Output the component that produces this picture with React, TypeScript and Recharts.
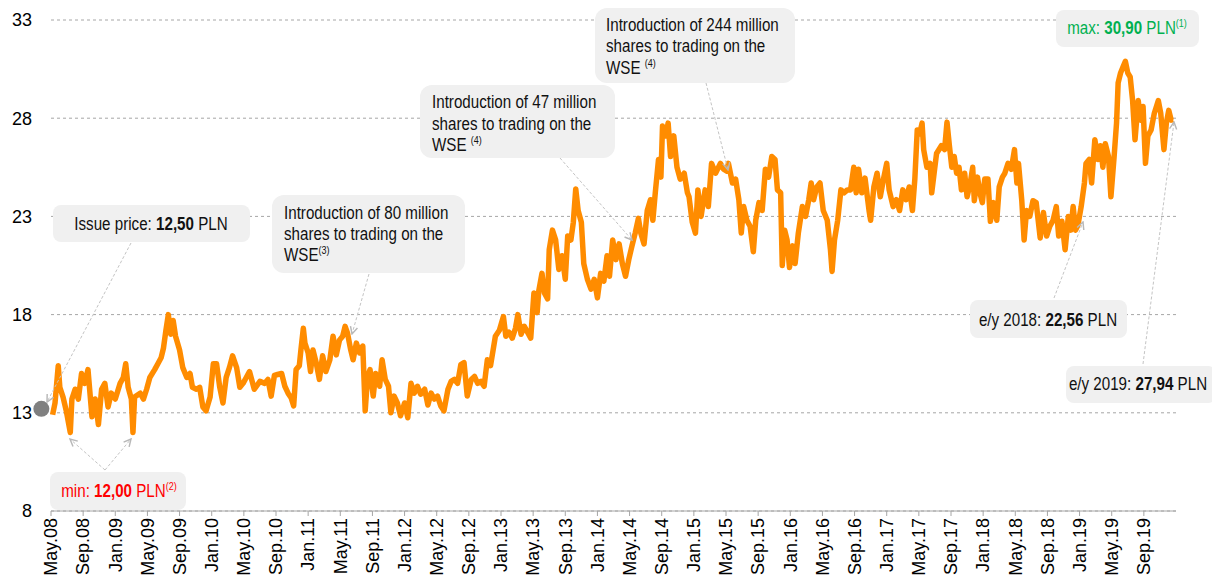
import React from 'react'
import { LineChart, Line, XAxis, YAxis, CartesianGrid, ReferenceDot } from 'recharts'

// months since 1 May 2008
const months = [
  0.2, 0.5, 0.9, 1.1, 1.5, 1.9, 2.4, 2.6, 3.0, 3.4,
  3.8, 4.2, 4.6, 5.1, 5.5, 5.9, 6.3, 6.7, 7.1, 7.5,
  8.0, 8.6, 9.0, 9.3, 9.6, 10.0, 10.2, 10.4, 11.1, 11.5,
  11.9, 12.3, 12.9, 13.3, 13.7, 14.0, 14.3, 14.6, 14.9, 15.2,
  15.5, 16.0, 16.4, 16.9, 17.3, 17.6, 18.1, 18.5, 18.9, 19.3,
  19.8, 20.2, 20.6, 21.0, 21.4, 21.8, 22.2, 22.6, 23.1, 23.5,
  23.9, 24.3, 24.7, 25.3, 26.0, 26.6,
  27.0, 27.4, 27.8, 28.2, 28.7, 29.1, 29.5, 29.9, 30.2, 30.5,
  30.9, 31.1, 31.4, 31.6, 32.0, 32.3, 32.6, 33.0, 33.4, 33.8,
  34.2, 34.7, 35.1, 35.5, 35.9, 36.3, 36.6, 36.9, 37.3, 37.6,
  38.0, 38.4, 38.8, 39.1, 39.4, 39.7, 40.1, 40.4, 40.9, 41.2,
  41.6, 42.0, 42.3, 42.7, 43.1, 43.5, 44.0, 44.4, 44.8, 45.2,
  45.6, 46.0, 46.5, 46.9, 47.3, 47.7, 48.1, 48.5, 48.9, 49.4,
  49.8, 50.2, 50.6, 51.0, 51.4, 51.8, 52.3, 52.7, 53.1, 53.5,
  53.9, 54.3, 54.7,
  55.3, 55.8, 56.3, 56.6, 57.0, 57.4, 57.8, 58.1, 58.5, 58.9,
  59.3, 59.7, 60.1, 60.5, 60.7, 61.1, 61.4, 61.8, 62.0, 62.4,
  62.8, 63.2, 63.6, 64.0, 64.3, 64.7, 65.0, 65.3, 65.6, 66.0,
  66.3, 66.75, 67.2, 67.6, 68.0, 68.4, 68.8, 69.2, 69.5, 69.9,
  70.3, 70.7, 71.1, 71.5, 71.9, 72.3, 72.7, 73.1, 73.4, 73.8,
  74.2, 74.6, 74.9, 75.2, 75.6, 75.9, 76.1, 76.5, 76.8, 77.1,
  77.5, 77.9, 78.3, 78.8, 79.2, 79.4, 79.8, 80.2, 80.5, 80.9,
  81.4, 81.8, 82.2, 82.7,
  83.3, 83.7, 84.1, 84.3, 84.8, 85.2, 85.6, 85.9, 86.2, 86.6,
  87.0, 87.4, 87.7, 88.1, 88.5, 88.9, 89.3, 89.7, 90.1, 90.4,
  90.8, 91.0, 91.3, 91.6, 91.9, 92.3, 92.6, 93.0, 93.5, 93.9,
  94.3, 94.6, 94.9, 95.3, 95.7, 96.1, 96.6, 97.0, 97.2, 97.5,
  97.9, 98.3, 98.7, 99.1, 99.5, 99.9, 100.2, 100.5, 100.9, 101.3,
  101.8, 102.0, 102.4, 102.8, 103.2, 103.6, 104.0, 104.3, 104.8, 105.2,
  105.6, 106.0, 106.4, 106.8, 107.2, 107.5, 107.8, 108.1, 108.4, 108.6,
  109.0, 109.4, 109.6, 109.9, 110.2,
  110.8, 111.2, 111.5, 111.8, 112.1, 112.4, 112.7, 113.0, 113.3, 113.7,
  114.0, 114.4, 114.7, 114.9, 115.3, 115.6, 115.9, 116.2, 116.6, 116.9,
  117.3, 117.7, 118.0, 118.4, 118.7, 119.1, 119.5, 119.9, 120.2, 120.4,
  120.8, 121.1, 121.4, 121.8, 122.2, 122.6, 123.1, 123.5, 123.9, 124.3,
  124.7, 125.1, 125.4, 125.8, 126.2, 126.6, 126.9, 127.2, 127.5, 127.8,
  128.2, 128.6, 128.8, 129.2, 129.5, 129.9, 130.3, 130.6, 130.9, 131.2,
  131.6, 131.9, 132.3, 132.6, 132.8, 133.1, 133.4, 133.7, 134.0, 134.3,
  134.6, 134.9, 135.3, 135.6, 135.9, 136.2, 136.5, 136.9, 137.3, 137.8,
  138.1, 138.5, 138.8, 139.1, 139.4, 139.6,
]

// share price, PLN
const prices = [
  12.9, 13.5, 15.4, 14.3, 13.8, 13.1, 12.0, 13.7, 14.2, 13.7,
  15.0, 14.5, 15.2, 12.8, 13.7, 12.4, 14.2, 14.5, 13.3, 14.0,
  13.7, 14.5, 14.8, 15.5, 14.3, 13.7, 12.0, 13.8, 14.0, 13.7,
  14.2, 14.8, 15.2, 15.5, 15.8, 16.3, 17.2, 18.0, 17.0, 17.7,
  16.9, 16.2, 15.3, 14.8, 15.0, 14.3, 14.2, 14.3, 13.3, 13.1,
  13.8, 15.5, 15.5, 14.3, 13.5, 14.8, 15.3, 15.9, 15.3, 14.3,
  14.5, 14.8, 15.1, 14.2, 14.6, 14.5,
  14.7, 13.85, 14.9, 14.95, 15.0, 14.35, 14.0, 13.75, 13.35, 15.2,
  15.4, 16.2, 17.3, 16.55, 16.05, 15.1, 16.2, 15.55, 14.7, 15.9,
  15.1, 15.7, 16.9, 15.95, 16.7, 16.9, 17.4, 17.05, 16.2, 15.7,
  16.55, 16.05, 16.4, 13.1, 14.85, 15.2, 13.85, 15.0, 14.35, 15.7,
  14.7, 14.35, 13.0, 13.85, 13.5, 12.85, 13.5, 12.75, 14.5, 14.0,
  14.35, 13.95, 14.2, 13.4, 14.0, 13.7, 13.85, 13.35, 13.1, 14.2,
  14.6, 14.7, 14.5, 15.45, 15.55, 13.85, 14.7, 14.85, 14.5, 14.6,
  14.35, 15.7, 15.4,
  16.9, 17.2, 17.9, 16.9, 17.1, 16.8, 17.3, 18.0, 17.0, 17.4,
  17.1, 16.8, 19.1, 18.1, 19.2, 20.1, 19.1, 18.8, 21.3, 22.3,
  21.8, 20.3, 21.0, 19.8, 22.0, 21.8, 22.7, 24.4, 23.3, 22.7,
  20.6, 19.8, 19.3, 19.8, 18.85, 20.1, 19.7, 21.0, 19.95, 21.8,
  20.8, 21.6, 20.6, 19.95, 20.8, 21.5, 22.15, 22.9, 22.15, 21.6,
  23.3, 23.85, 22.8, 24.2, 25.9, 25.0, 27.6, 27.1, 27.75, 26.05,
  27.1, 25.5, 24.9, 25.2, 24.2, 24.0, 22.7, 22.15, 24.35, 23.0,
  24.35, 23.5, 25.7, 25.2,
  25.7, 25.4, 25.3, 25.7, 24.7, 24.9, 23.85, 22.15, 23.5, 22.8,
  22.5, 21.2, 22.8, 23.7, 23.3, 25.4, 25.0, 26.05, 25.9, 24.35,
  24.2, 20.5, 22.3, 21.8, 20.4, 21.5, 20.6, 22.15, 23.5, 23.0,
  23.85, 24.7, 23.85, 24.5, 24.7, 23.3, 22.8, 21.3, 20.2, 21.8,
  22.8, 24.35, 24.2, 24.35, 24.35, 25.5, 24.2, 25.4, 24.2, 24.95,
  23.3, 22.8, 24.5, 25.2, 24.0, 24.9, 25.7, 24.35, 23.5, 23.85,
  23.3, 24.35, 23.85, 24.5, 23.3, 24.9, 27.4, 27.2, 27.75, 26.4,
  25.5, 25.7, 24.2, 25.2, 26.2,
  26.6, 26.4, 27.8, 26.6, 25.5, 26.05, 25.2, 25.5, 24.35, 25.2,
  24.0, 24.7, 25.5, 23.8, 25.0, 24.2, 23.7, 24.9, 24.9, 22.75,
  23.7, 22.8, 24.5, 25.0, 25.2, 25.7, 25.4, 26.4, 24.7, 25.7,
  23.85, 21.8, 23.3, 23.0, 23.8, 23.7, 21.9, 23.2, 22.0, 22.5,
  22.8, 23.5, 22.0, 22.75, 21.3, 23.0, 22.3, 23.5, 22.3, 22.56,
  23.5, 24.7, 25.7, 25.9, 24.7, 26.9, 25.9, 26.6, 25.5, 26.7,
  26.05, 24.0, 26.05, 27.75, 29.8, 30.3, 30.6, 30.9, 30.3, 30.1,
  28.9, 26.9, 28.9, 27.9, 28.6, 25.7, 27.1, 27.4, 28.25, 28.9,
  28.25, 26.4, 27.75, 28.4, 27.9, 27.94,
]

const tickLabels = [
  'May.08', 'Sep.08', 'Jan.09', 'May.09', 'Sep.09', 'Jan.10', 'May.10', 'Sep.10', 'Jan.11',
  'May.11', 'Sep.11', 'Jan.12', 'May.12', 'Sep.12', 'Jan.13', 'May.13', 'Sep.13', 'Jan.14',
  'May.14', 'Sep.14', 'Jan.15', 'May.15', 'Sep.15', 'Jan.16', 'May.16', 'Sep.16', 'Jan.17',
  'May.17', 'Sep.17', 'Jan.18', 'May.18', 'Sep.18', 'Jan.19', 'May.19', 'Sep.19',
]
const tickMonths = tickLabels.map((_, i) => i * 4)
const yTicks = [8, 13, 18, 23, 28, 33]

// grey marker left of the axis
const issueDot = { month: -1.2, price: 13.2 }

const rows = months.map((m, i) => ({ m, p: prices[i] }))

const sans = "'Liberation Sans', Arial, sans-serif"

function MonthTick(props: any) {
  const { x, y, payload } = props
  const label = tickLabels[tickMonths.indexOf(payload.value)]
  return (
    <text
      x={x}
      y={y}
      transform={`rotate(-90 ${x} ${y})`}
      textAnchor="end"
      dy="0.35em"
      fontSize={18}
      fontFamily={sans}
      fill="#000"
    >
      {label}
    </text>
  )
}

function Sup({ children }: { children: React.ReactNode }) {
  return (
    <tspan fontSize={11} dy={-7}>
      {children}
    </tspan>
  )
}

// no narrow font installed, so squeeze the regular one like Arial Narrow
function Note(props: any) {
  const { x, y, anchor = 'start', fill = '#111', children } = props
  return (
    <g transform={`translate(${x} ${y}) scale(0.82 1)`}>
      <text x={0} y={0} textAnchor={anchor} fontFamily={sans} fontSize={18.5} fill={fill}>
        {children}
      </text>
    </g>
  )
}

function Annotations() {
  const box = '#F0F0F0'
  const conn = '#C4C4C4'
  return (
    <svg width={1212} height={581} style={{ position: 'absolute', left: 0, top: 0, pointerEvents: 'none' }}>
      <defs>
        <marker id="arr" viewBox="0 0 10 10" refX={9} refY={5} markerWidth={9} markerHeight={9} orient="auto">
          <path d="M1,1 L9,5 L1,9" fill="none" stroke="#B8B8B8" strokeWidth={1.6} />
        </marker>
      </defs>
      <g stroke={conn} strokeWidth={1} strokeDasharray="3 2" fill="none">
        <line x1={131} y1={243} x2={47} y2={402} markerEnd="url(#arr)" />
        <line x1={369} y1={274} x2={352} y2={334} markerEnd="url(#arr)" />
        <line x1={560} y1={158} x2={632} y2={240} markerEnd="url(#arr)" />
        <line x1={706} y1={83} x2={728} y2={170} markerEnd="url(#arr)" />
        <line x1={1054} y1={298} x2={1083} y2={222} markerEnd="url(#arr)" />
        <line x1={1143} y1={364} x2={1174} y2={122} markerEnd="url(#arr)" />
        <line x1={105} y1={470} x2={70} y2={439} markerEnd="url(#arr)" />
        <line x1={105} y1={470} x2={131} y2={439} markerEnd="url(#arr)" />
      </g>

      <rect x={53} y={205} width={197} height={37} rx={8} fill={box} />
      <Note x={151} y={230} anchor="middle">
        Issue price: <tspan fontWeight="bold">12,50</tspan> PLN
      </Note>

      <rect x={272} y={195} width={193} height={78} rx={12} fill={box} />
      <Note x={284} y={219}>Introduction of 80 million</Note>
      <Note x={284} y={240}>shares to trading on the</Note>
      <Note x={284} y={261}>
        WSE<Sup>(3)</Sup>
      </Note>

      <rect x={420} y={85} width={195} height={73} rx={12} fill={box} />
      <Note x={432} y={108}>Introduction of 47 million</Note>
      <Note x={432} y={130}>shares to trading on the</Note>
      <Note x={432} y={151}>
        WSE <Sup>(4)</Sup>
      </Note>

      <rect x={595} y={8} width={200} height={75} rx={12} fill={box} />
      <Note x={606} y={31}>Introduction of 244 million</Note>
      <Note x={606} y={52}>shares to trading on the</Note>
      <Note x={606} y={74}>
        WSE <Sup>(4)</Sup>
      </Note>

      <rect x={1056} y={10} width={143} height={37} rx={8} fill={box} />
      <Note x={1127} y={34} anchor="middle" fill="#00B050">
        max: <tspan fontWeight="bold">30,90</tspan> PLN<Sup>(1)</Sup>
      </Note>

      <rect x={970} y={300} width={157} height={38} rx={8} fill={box} />
      <Note x={1048} y={326} anchor="middle">
        e/y 2018: <tspan fontWeight="bold">22,56</tspan> PLN
      </Note>

      <rect x={1066} y={366} width={150} height={37} rx={8} fill={box} />
      <Note x={1138} y={390} anchor="middle">
        e/y 2019: <tspan fontWeight="bold">27,94</tspan> PLN
      </Note>

      <rect x={50} y={472} width={136} height={38} rx={8} fill={box} />
      <Note x={119} y={497} anchor="middle" fill="#FF0000">
        min: <tspan fontWeight="bold">12,00</tspan> PLN<Sup>(2)</Sup>
      </Note>
    </svg>
  )
}

export default function App() {
  return (
    <div style={{ position: 'absolute', left: 0, top: 0, width: 1212, height: 581, background: '#fff' }}>
      <LineChart width={1212} height={581} data={rows} margin={{ top: 20, right: 36, bottom: 0, left: 0 }}>
        <CartesianGrid vertical={false} strokeDasharray="3 3" stroke="#A6A6A6" />
        <XAxis
          type="number"
          dataKey="m"
          domain={[0, 140]}
          ticks={tickMonths}
          interval={0}
          height={70}
          stroke="#A6A6A6"
          tickSize={5}
          tickMargin={2}
          tick={<MonthTick />}
        />
        <YAxis
          type="number"
          domain={[8, 33]}
          ticks={yTicks}
          width={51}
          axisLine={false}
          tickLine={false}
          tickSize={0}
          tickMargin={19}
          tick={{ fontSize: 18, fill: '#000', fontFamily: sans }}
        />
        <Line
          type="linear"
          dataKey="p"
          stroke="#FF8C00"
          strokeWidth={5.5}
          strokeLinejoin="round"
          dot={false}
          isAnimationActive={false}
        />
        <ReferenceDot x={issueDot.month} y={issueDot.price} r={8} fill="#808080" stroke="none" ifOverflow="visible" />
      </LineChart>
      <Annotations />
    </div>
  )
}
